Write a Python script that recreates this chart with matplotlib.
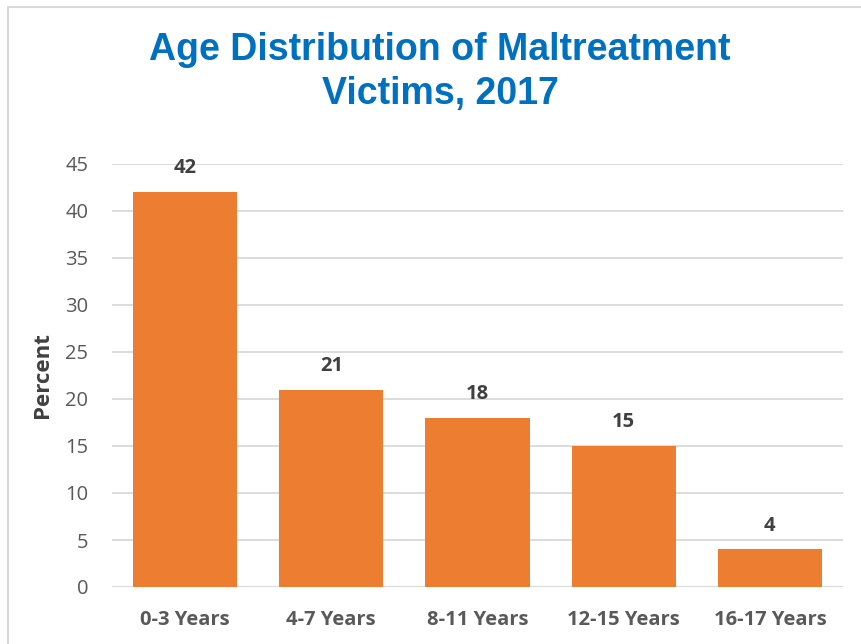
import matplotlib
matplotlib.use("Agg")
import matplotlib.pyplot as plt
from matplotlib.patches import Rectangle

categories = ["0-3 Years", "4-7 Years", "8-11 Years", "12-15 Years", "16-17 Years"]
values = [42, 21, 18, 15, 4]
yticks = [0, 5, 10, 15, 20, 25, 30, 35, 40, 45]

W, H = 861, 644
fig = plt.figure(figsize=(W / 100, H / 100), dpi=100)
fig.patch.set_facecolor("white")

# outer chart frame
fig.patches.append(Rectangle((8 / W, -0.05), 1.2, 1 - 7 / H + 0.05, transform=fig.transFigure,
                             fill=False, edgecolor="#d9d9d9", linewidth=1.5))

ax = fig.add_axes([112 / W, 1 - 587 / H, (843 - 112) / W, (587 - 164) / H])
x = list(range(len(categories)))
ax.bar(x, values, width=0.712, color="#ED7D31", zorder=3)
ax.set_xlim(-0.5, len(categories) - 0.5)
ax.set_ylim(0, 45)
ax.set_yticks(yticks)
ax.yaxis.grid(True, color="#d9d9d9", linewidth=1.3, zorder=0)
for s in ax.spines.values():
    s.set_visible(False)
ax.axhline(0, color="#d9d9d9", linewidth=1.5, zorder=1)
ax.tick_params(axis="both", length=0)
ax.tick_params(axis="y", pad=17, labelsize=14.5, labelcolor="#595959")
ax.set_yticklabels([str(t) for t in yticks], family="Open Sans")
ax.set_xticks(x)
ax.set_xticklabels(categories, family="Open Sans", fontweight="bold", fontsize=14.5, color="#595959")
ax.tick_params(axis="x", pad=16.5)

for xi, v in zip(x, values):
    ax.annotate(str(v), (xi, v), xytext=(0, 10), textcoords="offset points",
                ha="center", va="bottom", family="Open Sans", fontweight="bold",
                fontsize=14.5, color="#404040")

fig.text(42 / W, 1 - 375 / H, "Percent", rotation=90, ha="center", va="center",
         family="Open Sans", fontweight="bold", fontsize=16, color="#404040")

fig.text(440 / W, 1 - 72 / H, "Age Distribution of Maltreatment\nVictims, 2017", ha="center",
         va="center", family="Liberation Sans", fontweight="bold", fontsize=27,
         color="#0070C0", linespacing=1.25)

fig.savefig("out.png", dpi=100)
